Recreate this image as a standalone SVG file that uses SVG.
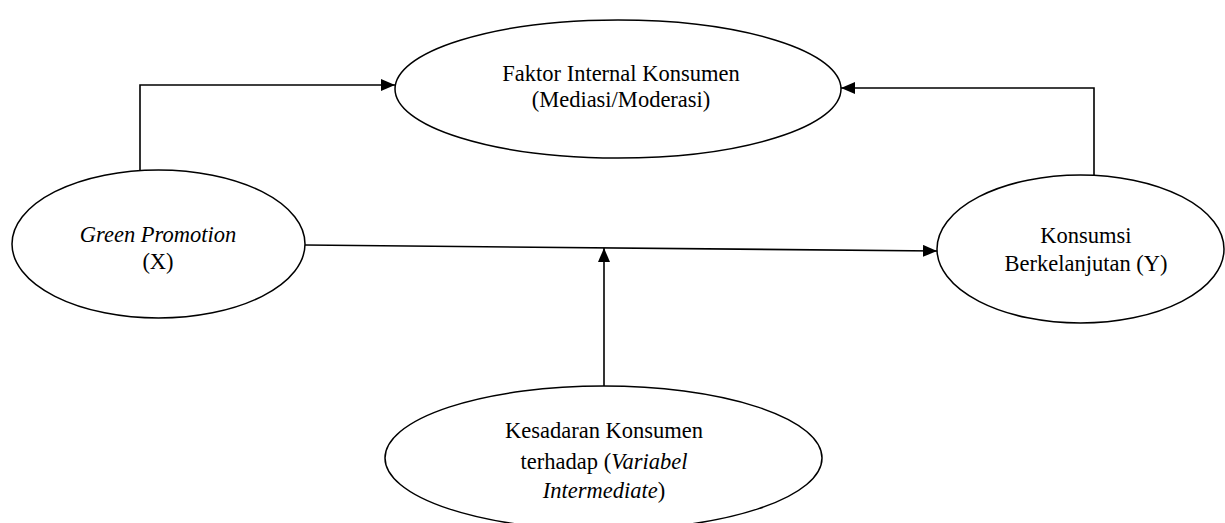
<svg xmlns="http://www.w3.org/2000/svg" width="1225" height="523" viewBox="0 0 1225 523">
<style>
.node ellipse{fill:#fff;stroke:#000;stroke-width:1.5}
.lbl{font-family:'Liberation Serif','DejaVu Serif',serif;font-size:22.5px;fill:#000;text-anchor:middle}
.it{font-style:italic}
.conn{fill:none;stroke:#000;stroke-width:1.6}
</style>
<defs>
<marker id="ah" viewBox="0 0 14 12" refX="14" refY="6" markerWidth="14" markerHeight="12" markerUnits="userSpaceOnUse" orient="auto">
<path d="M0,0 L14,6 L0,12 Z" fill="#000"/>
</marker>
</defs>
<g id="connectors">
<path class="conn" d="M140,170 V85 H395" marker-end="url(#ah)"/>
<path class="conn" d="M1094,175 V88 H841" marker-end="url(#ah)"/>
<path class="conn" d="M305,245 L937,251" marker-end="url(#ah)"/>
<path class="conn" d="M604,386 V248" marker-end="url(#ah)"/>
</g>
<g id="node-faktor" class="node">
<ellipse cx="618" cy="89" rx="223" ry="69"/>
<text class="lbl" font-family="Liberation Serif" x="621" y="81">Faktor Internal Konsumen</text>
<text class="lbl" font-family="Liberation Serif" x="621" y="107">(Mediasi/Moderasi)</text>
</g>
<g id="node-green" class="node">
<ellipse cx="158.5" cy="244" rx="146.5" ry="74"/>
<text class="lbl it" font-family="Liberation Serif" x="158" y="242">Green Promotion</text>
<text class="lbl" font-family="Liberation Serif" x="158" y="269">(X)</text>
</g>
<g id="node-konsumsi" class="node">
<ellipse cx="1080.5" cy="249" rx="143.5" ry="74"/>
<text class="lbl" font-family="Liberation Serif" x="1086" y="243">Konsumsi</text>
<text class="lbl" font-family="Liberation Serif" x="1086" y="271">Berkelanjutan (Y)</text>
</g>
<g id="node-kesadaran" class="node">
<ellipse cx="603.5" cy="458" rx="218.5" ry="72"/>
<text class="lbl" font-family="Liberation Serif" x="604" y="438">Kesadaran Konsumen</text>
<text class="lbl" font-family="Liberation Serif" x="604" y="469">terhadap (<tspan class="it">Variabel</tspan></text>
<text class="lbl" font-family="Liberation Serif" x="604" y="498"><tspan class="it">Intermediate</tspan>)</text>
</g>
</svg>
